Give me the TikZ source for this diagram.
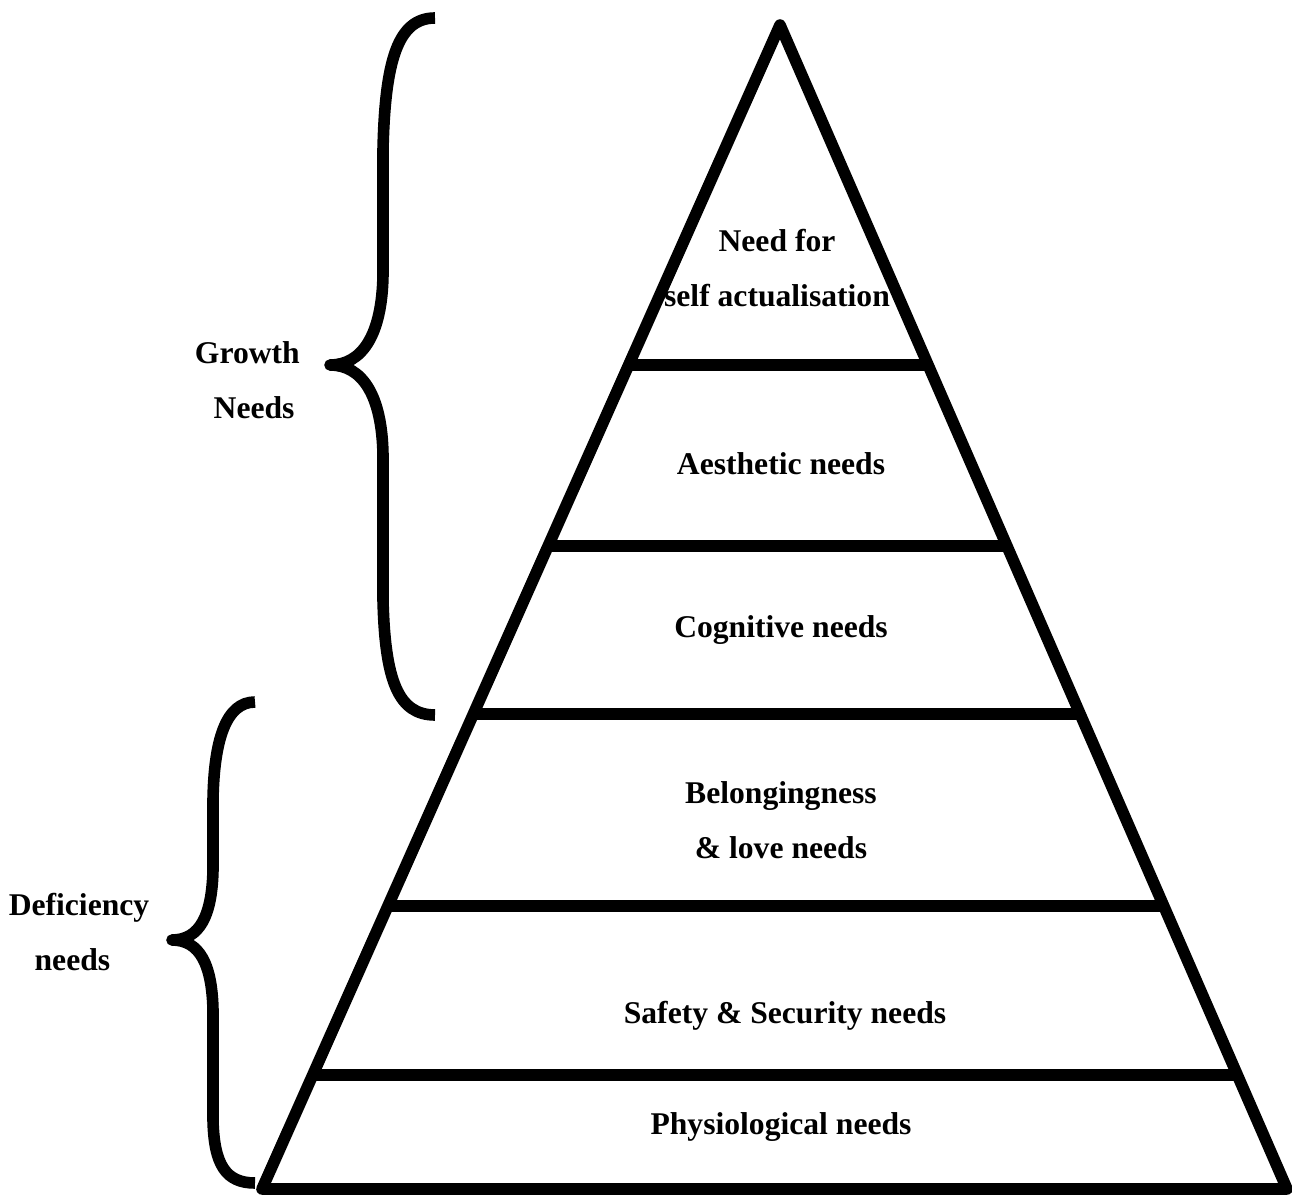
\documentclass[tikz,border=0pt]{standalone}
\usepackage{fontspec}
\setmainfont{Liberation Serif}
\usetikzlibrary{calc}

\tikzset{
  thick line/.style={line width=6.6pt, line join=round},
  level text/.style={font=\fontsize{18}{31}\selectfont\bfseries, align=center},
}

\begin{document}
\begin{tikzpicture}[x=0.02cm, y=-0.02cm]
\useasboundingbox (0,0) rectangle (1292,1199);

% Pyramid
\coordinate (apex) at (780,25);
\coordinate (bl) at (262,1189);
\coordinate (br) at (1287,1189);
\draw[thick line] (apex) -- (bl) -- (br) -- cycle;

% Layers
\foreach \y in {365,546,714,906,1075}
  \draw[thick line] ($(apex)!{(\y-25)/1164}!(bl)$) -- ($(apex)!{(\y-25)/1164}!(br)$);

% Level names
\node[level text] (self) at (777,268) {Need for\\self actualisation};
\node[level text] (aesth) at (781,464) {Aesthetic needs};
\node[level text] (cogn) at (781,630) {Cognitive needs};
\node[level text] (belong) at (781,820) {Belongingness\\\& love needs};
\node[level text] (safety) at (785,1016) {Safety \& Security needs};
\node[level text] (physio) at (781,1127) {Physiological needs};

% Braces
\draw[thick line] (435,18) .. controls (398,18) and (385,60) .. (383,150)
  -- (383,275) .. controls (382,335) and (362,365) .. (330,365)
  .. controls (362,365) and (382,395) .. (383,455)
  -- (383,600) .. controls (385,680) and (398,715) .. (435,715);
\draw[thick line] (255,702) .. controls (226,702) and (214,740) .. (213,800)
  -- (213,870) .. controls (212,915) and (200,940) .. (172,940)
  .. controls (200,940) and (212,965) .. (213,1010)
  -- (213,1120) .. controls (214,1165) and (226,1183) .. (255,1183);

% Group names
\node[level text, align=right, anchor=east] (growth) at (306,380) {Growth\\Needs\,};
\node[level text] (defic) at (79,932) {Deficiency\\needs\ \,};

\end{tikzpicture}
\end{document}
